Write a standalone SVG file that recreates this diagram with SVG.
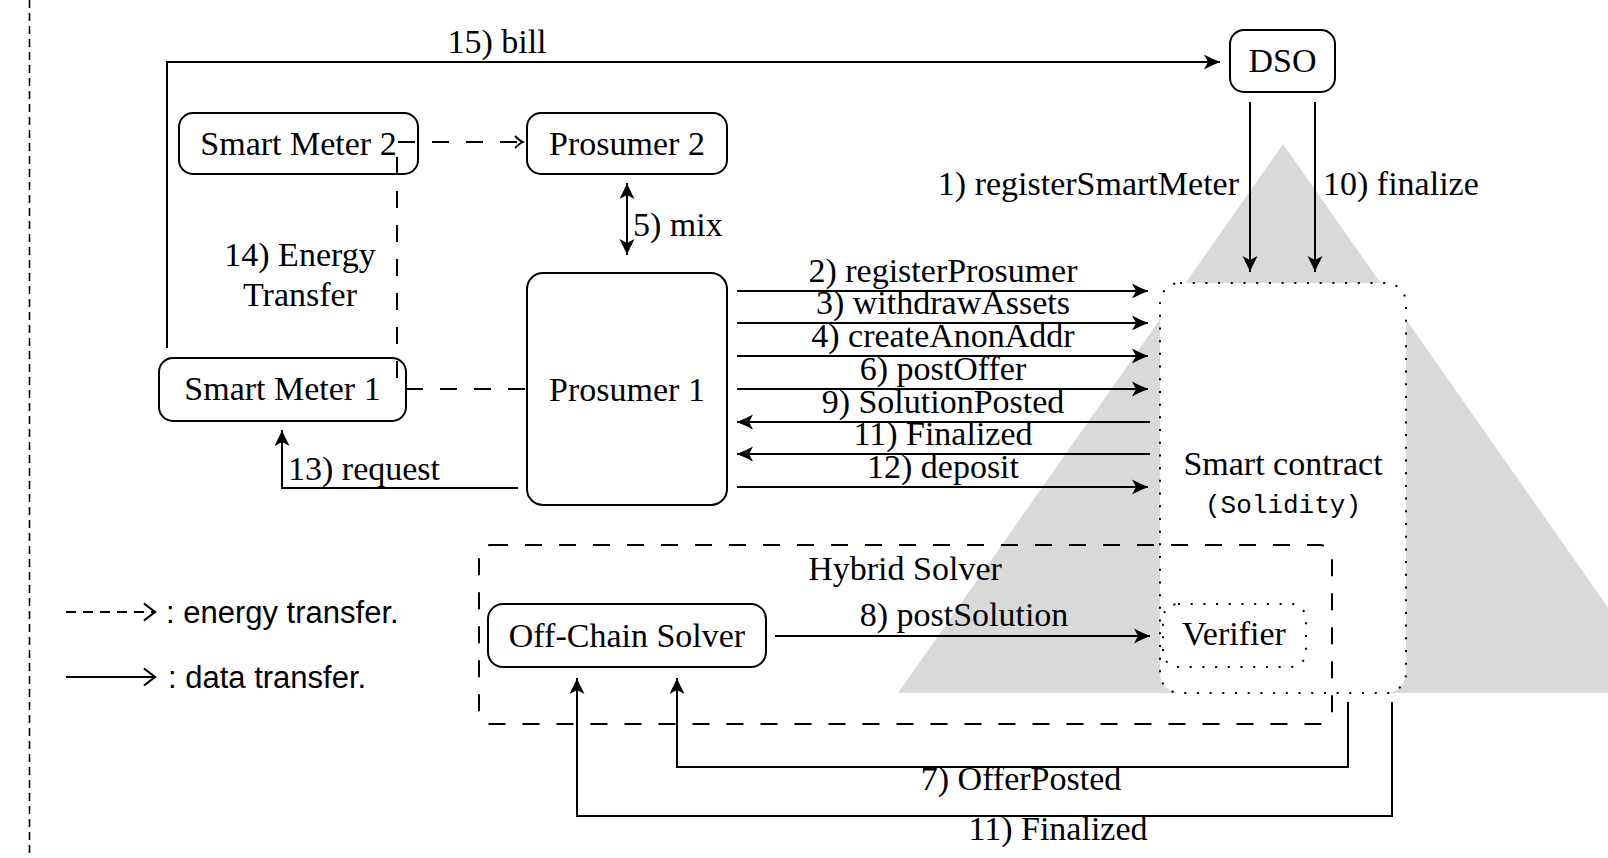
<svg xmlns="http://www.w3.org/2000/svg" width="1608" height="858" viewBox="0 0 1608 858">
<style>
.t{font-family:"Liberation Serif","Times New Roman",serif;font-size:34px;fill:#000}
.m{font-family:"Liberation Mono","Courier New",monospace;font-size:26px;fill:#000}
.s{font-family:"Liberation Sans",Arial,sans-serif;font-size:31px;fill:#000}
.box{fill:#fff;stroke:#000;stroke-width:2}
.ln{fill:none;stroke:#000;stroke-width:2}
.en{fill:none;stroke:#000;stroke-width:2;stroke-dasharray:17 17}
.dot{fill:none;stroke:#000;stroke-width:2;stroke-dasharray:2 10.7}
.dotw{fill:#fff;stroke:#000;stroke-width:2;stroke-dasharray:2 10.7}
</style>
<defs>
<marker id="fh" markerUnits="userSpaceOnUse" viewBox="-17 -9 18 18" refX="0" refY="0" markerWidth="18" markerHeight="18" orient="auto-start-reverse">
<path d="M0,0 C-5,-2 -11,-5 -16,-7.5 L-12,0 L-16,7.5 C-11,5 -5,2 0,0 Z" fill="#000"/>
</marker>
<marker id="oh" markerUnits="userSpaceOnUse" viewBox="-10 -8 12 16" refX="0" refY="0" markerWidth="12" markerHeight="16" orient="auto">
<path d="M-8,-6 Q-3,-1 0,0 Q-3,1 -8,6" fill="none" stroke="#000" stroke-width="1.8"/>
</marker>
<marker id="lh" markerUnits="userSpaceOnUse" viewBox="-13 -10 15 20" refX="0" refY="0" markerWidth="15" markerHeight="20" orient="auto">
<path d="M-11,-8.5 L0,0 L-11,8.5" fill="none" stroke="#000" stroke-width="2.2"/>
</marker>
</defs>

<rect width="1608" height="858" fill="#fff"/>
<line x1="29.5" y1="0" x2="29.5" y2="858" stroke="#000" stroke-width="1.6" stroke-dasharray="8 5"/>

<polygon id="triangle" points="1283,144 898,693 1668,693" fill="#d9d9d9"/>

<g id="smart-contract">
<rect x="1160" y="283" width="246" height="410" rx="20" class="dotw"/>
<text class="t" x="1283" y="475" text-anchor="middle">Smart contract</text>
<text class="m" x="1283" y="513" text-anchor="middle">(Solidity)</text>
</g>
<g id="verifier">
<rect x="1163" y="604" width="143" height="63" rx="15" class="dot"/>
<text class="t" x="1234" y="645" text-anchor="middle">Verifier</text>
</g>
<g id="hybrid-solver">
<rect x="479" y="545" width="853" height="179" rx="12" class="en"/>
<text class="t" x="905" y="580" text-anchor="middle">Hybrid Solver</text>
</g>
<g id="off-chain-solver">
<rect x="488" y="604" width="278" height="63" rx="15" class="box"/>
<text class="t" x="627" y="647" text-anchor="middle">Off-Chain Solver</text>
</g>
<g id="smart-meter-2">
<rect x="179" y="113" width="239" height="61" rx="14" class="box"/>
<text class="t" x="298.5" y="155" text-anchor="middle">Smart Meter 2</text>
</g>
<g id="prosumer-2">
<rect x="527" y="113" width="200" height="61" rx="14" class="box"/>
<text class="t" x="627" y="155" text-anchor="middle">Prosumer 2</text>
</g>
<g id="smart-meter-1">
<rect x="159" y="358" width="247" height="63" rx="14" class="box"/>
<text class="t" x="282.5" y="400" text-anchor="middle">Smart Meter 1</text>
</g>
<g id="prosumer-1">
<rect x="527" y="273" width="200" height="232" rx="16" class="box"/>
<text class="t" x="627" y="401" text-anchor="middle">Prosumer 1</text>
</g>
<g id="dso">
<rect x="1230" y="30" width="105" height="62" rx="14" class="box"/>
<text class="t" x="1282.5" y="72" text-anchor="middle">DSO</text>
</g>

<g id="connectors">
<path class="ln" d="M167,348 V62 H1220" marker-end="url(#fh)"/>
<text class="t" x="497" y="53" text-anchor="middle">15) bill</text>

<path class="en" d="M398,142 H523" marker-end="url(#oh)"/>
<path class="en" d="M397,157 V378"/>
<path class="en" d="M406,389 H527"/>
<text class="t" x="300" y="266" text-anchor="middle">14) Energy</text>
<text class="t" x="300" y="306" text-anchor="middle">Transfer</text>

<path class="ln" d="M627,183 V255" marker-start="url(#fh)" marker-end="url(#fh)"/>
<text class="t" x="633" y="236">5) mix</text>

<path class="ln" d="M518,488 H282 V430" marker-end="url(#fh)"/>
<text class="t" x="288" y="480">13) request</text>

<path class="ln" d="M1250,102 V272" marker-end="url(#fh)"/>
<text class="t" x="1239" y="195" text-anchor="end">1) registerSmartMeter</text>
<path class="ln" d="M1315,102 V272" marker-end="url(#fh)"/>
<text class="t" x="1323" y="195">10) finalize</text>

<path class="ln" d="M737,291 H1148" marker-end="url(#fh)"/>
<text class="t" x="943" y="282" text-anchor="middle">2) registerProsumer</text>
<path class="ln" d="M737,323 H1148" marker-end="url(#fh)"/>
<text class="t" x="943" y="314" text-anchor="middle">3) withdrawAssets</text>
<path class="ln" d="M737,356 H1148" marker-end="url(#fh)"/>
<text class="t" x="943" y="347" text-anchor="middle">4) createAnonAddr</text>
<path class="ln" d="M737,389 H1148" marker-end="url(#fh)"/>
<text class="t" x="943" y="380" text-anchor="middle">6) postOffer</text>
<path class="ln" d="M1150,422 H737" marker-end="url(#fh)"/>
<text class="t" x="943" y="413" text-anchor="middle">9) SolutionPosted</text>
<path class="ln" d="M1150,454 H737" marker-end="url(#fh)"/>
<text class="t" x="943" y="445" text-anchor="middle">11) Finalized</text>
<path class="ln" d="M737,487 H1148" marker-end="url(#fh)"/>
<text class="t" x="943" y="478" text-anchor="middle">12) deposit</text>

<path class="ln" d="M775,636 H1150" marker-end="url(#fh)"/>
<text class="t" x="964" y="626" text-anchor="middle">8) postSolution</text>

<path class="ln" d="M1348,702 V767 H677 V678" marker-end="url(#fh)"/>
<text class="t" x="1021" y="790" text-anchor="middle">7) OfferPosted</text>
<path class="ln" d="M1392,702 V816 H577 V678" marker-end="url(#fh)"/>
<text class="t" x="1058" y="840" text-anchor="middle">11) Finalized</text>
</g>

<g id="legend">
<path d="M66,612 H155" fill="none" stroke="#000" stroke-width="2" stroke-dasharray="10 7" marker-end="url(#lh)"/>
<text class="s" x="166" y="623">: energy transfer.</text>
<path d="M66,677 H155" fill="none" stroke="#000" stroke-width="2" marker-end="url(#lh)"/>
<text class="s" x="168" y="688">: data transfer.</text>
</g>
</svg>
